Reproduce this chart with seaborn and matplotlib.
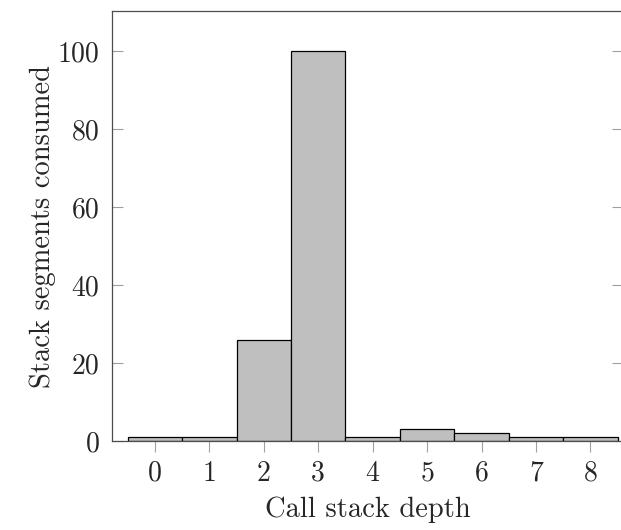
import matplotlib
matplotlib.use("Agg")
import matplotlib.pyplot as plt
import seaborn as sns
import pandas as pd

depths = ["0", "1", "2", "3", "4", "5", "6", "7", "8"]
segments = [1, 1, 26, 100, 1, 3, 2, 1, 1]
yticks = [0, 20, 40, 60, 80, 100]

sns.set_style("white")
plt.rcParams["font.family"] = ["cmr10", "DejaVu Serif"]
plt.rcParams["axes.formatter.use_mathtext"] = True

W, H = 621, 530
fig = plt.figure(figsize=(W / 100, H / 100), dpi=100)
ax = fig.add_axes([112 / W, (H - 441) / H, (623 - 112) / W, (441 - 11) / H])

df = pd.DataFrame({"depth": depths, "segments": segments})
sns.barplot(data=df, x="depth", y="segments", order=depths, width=1.0,
            color="#bfbfbf", saturation=1, edgecolor="black", linewidth=0.9, ax=ax)

ax.set_xlim(-0.79, 8.6)
ax.set_ylim(0, 110.3)
ax.set_yticks(yticks)
ax.set_yticklabels([str(v) for v in yticks])
ax.set_xlabel("Call stack depth", fontsize=20.5, labelpad=7)
ax.set_ylabel("Stack segments consumed", fontsize=20.5, labelpad=1)

ax.tick_params(axis="y", direction="in", length=8, width=0.8, color="#a0a0a0",
               labelsize=20, left=True, right=True, pad=9)
ax.tick_params(axis="x", direction="out", length=8, width=0.8, color="#a0a0a0",
               labelsize=20, bottom=True, pad=6)
for s in ax.spines.values():
    s.set_visible(True)
    s.set_color("#4d4d4d")
    s.set_linewidth(0.9)

fig.savefig("out.png", dpi=100)
